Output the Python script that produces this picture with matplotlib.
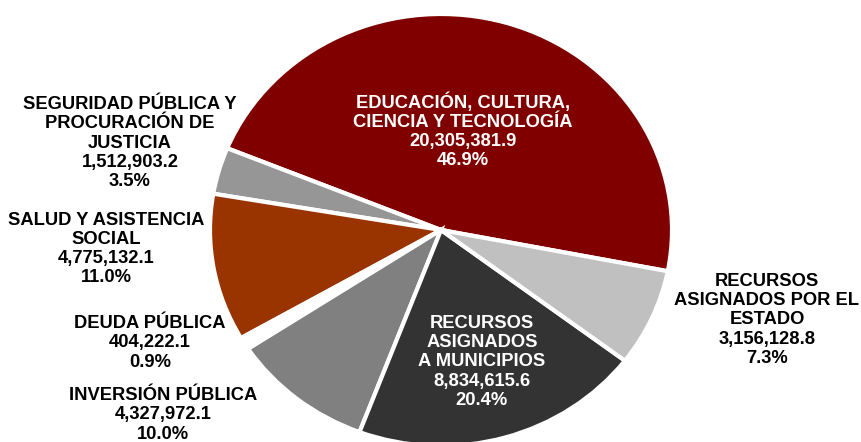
import matplotlib.pyplot as plt

# data (miles de pesos)
labels = ['EDUCACIÓN, CULTURA,\nCIENCIA Y TECNOLOGÍA',
          'SEGURIDAD PÚBLICA Y\nPROCURACIÓN DE\nJUSTICIA',
          'SALUD Y ASISTENCIA\nSOCIAL',
          'DEUDA PÚBLICA',
          'INVERSIÓN PÚBLICA',
          'RECURSOS\nASIGNADOS\nA MUNICIPIOS',
          'RECURSOS\nASIGNADOS POR EL\nESTADO']
values = [20305381.9, 1512903.2, 4775132.1, 404222.1, 4327972.1, 8834615.6, 3156128.8]
pcts = [46.9, 3.5, 11.0, 0.9, 10.0, 20.4, 7.3]
colors = ['#800000', '#969696', '#993300', '#FFFFFF', '#808080', '#333333', '#C0C0C0']

# label placement in figure pixels (x, y from top) and text colour
label_pos = [(463, 131), (130, 143), (106, 249), (150, 343), (163, 415), (482, 362), (767, 320)]
label_col = ['white', 'black', 'black', 'black', 'black', 'white', 'black']

plt.rcParams['font.family'] = ['Liberation Sans', 'DejaVu Sans']

W, H = 861, 442
fig = plt.figure(figsize=(W / 100, H / 100), dpi=100)

# pie is slightly elliptical: centre (441, 230), rx 231, ry 216
cx, cy, rx, ry = 441, 230, 231, 216
ax = fig.add_axes([(cx - rx) / W, (H - cy - ry) / H, 2 * rx / W, 2 * ry / H])
ax.pie(values, colors=colors, startangle=-11, counterclock=True,
       wedgeprops=dict(edgecolor='white', linewidth=3))
ax.set_aspect('auto')
ax.set_xlim(-1, 1)
ax.set_ylim(-1, 1)
ax.axis('off')

for lab, v, p, (x, y), c in zip(labels, values, pcts, label_pos, label_col):
    txt = f'{lab}\n{v:,.1f}\n{p:.1f}%'
    fig.text(x / W, 1 - y / H, txt, ha='center', va='center', ma='center',
             color=c, fontsize=13.2, fontweight='bold', linespacing=1.16)

fig.savefig('out.png', dpi=100)
